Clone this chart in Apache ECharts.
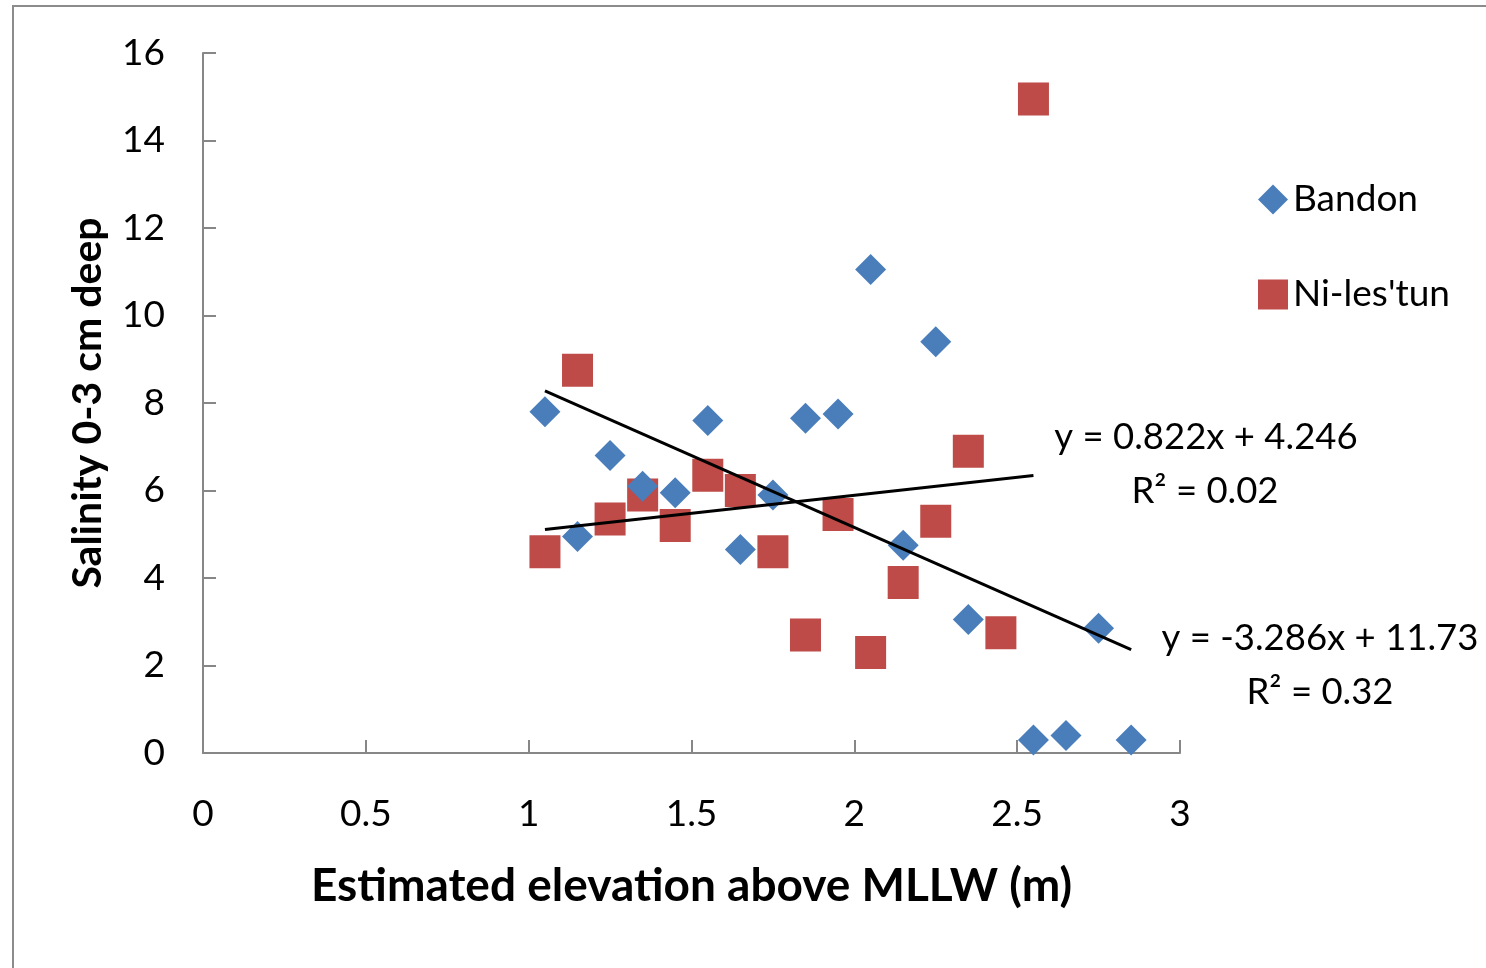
<!DOCTYPE html>
<html>
<head>
<meta charset="utf-8">
<script src="https://cdn.jsdelivr.net/npm/echarts@6/dist/echarts.min.js"></script>
<style>
html, body { margin: 0; padding: 0; background: #fff; }
#chart { width: 1486px; height: 968px; }
</style>
</head>
<body>
<div id="chart"></div>
<script>
var bandonX = [1.05, 1.15, 1.25, 1.35, 1.45, 1.55, 1.65, 1.75, 1.85, 1.95, 2.05, 2.15, 2.25, 2.35, 2.55, 2.65, 2.75, 2.85];
var bandonY = [7.8, 4.95, 6.8, 6.1, 5.95, 7.6, 4.65, 5.9, 7.65, 7.75, 11.05, 4.75, 9.4, 3.05, 0.3, 0.4, 2.85, 0.3];
var nilesX = [1.05, 1.15, 1.25, 1.35, 1.45, 1.55, 1.65, 1.75, 1.85, 1.95, 2.05, 2.15, 2.25, 2.35, 2.45, 2.55];
var nilesY = [4.6, 8.75, 5.35, 5.9, 5.2, 6.35, 6.0, 4.6, 2.7, 5.45, 2.3, 3.9, 5.3, 6.9, 2.75, 14.95];
// trendline coefficients [slope, intercept]
var bandonFit = [-3.286, 11.73];
var nilesFit = [0.822, 4.246];
var xTicks = [0, 0.5, 1, 1.5, 2, 2.5, 3];
var yTicks = [0, 2, 4, 6, 8, 10, 12, 14, 16];

var font = 'Lato';
var axisGrey = '#878787';

function pairs(xs, ys) {
	return xs.map(function(x, i) { return [x, ys[i]]; });
}
function fitLine(xs, fit) {
	var lo = Math.min.apply(null, xs), hi = Math.max.apply(null, xs);
	return [[lo, fit[0] * lo + fit[1]], [hi, fit[0] * hi + fit[1]]];
}

var myChart = echarts.init(document.getElementById('chart'));

var eqFont = '36.5px ' + font;

var option = {
	backgroundColor: '#fff',
	animation: false,
	graphic: [
		{ type: 'rect', shape: { x: 13, y: 6, width: 1600, height: 1100 }, style: { fill: 'none', stroke: '#8c8c8c', lineWidth: 2 } },
		{ type: 'text', x: 1206, y: 437, style: { text: 'y = 0.822x + 4.246', font: eqFont, fill: '#000', align: 'center', verticalAlign: 'middle' } },
		{ type: 'text', x: 1205, y: 491, style: { text: 'R² = 0.02', font: eqFont, fill: '#000', align: 'center', verticalAlign: 'middle' } },
		{ type: 'text', x: 1320, y: 638, style: { text: 'y = -3.286x + 11.73', font: eqFont, fill: '#000', align: 'center', verticalAlign: 'middle' } },
		{ type: 'text', x: 1320, y: 692, style: { text: 'R² = 0.32', font: eqFont, fill: '#000', align: 'center', verticalAlign: 'middle' } }
	],
	grid: { left: 203, right: 306, top: 53, bottom: 215 },
	legend: {
		orient: 'vertical',
		left: 1253,
		top: 176,
		itemGap: 58,
		itemWidth: 30,
		itemHeight: 30,
		textStyle: { fontFamily: font, fontSize: 37, color: '#000' },
		data: ['Bandon', "Ni-les'tun"]
	},
	xAxis: {
		type: 'value',
		min: 0,
		max: 3,
		interval: 0.5,
		name: 'Estimated elevation above MLLW (m)',
		nameLocation: 'middle',
		nameGap: 110,
		nameTextStyle: { fontFamily: font, fontSize: 46, fontWeight: 'bold', color: '#000' },
		axisLine: { lineStyle: { color: axisGrey, width: 2 } },
		axisTick: { inside: true, length: 13, lineStyle: { color: axisGrey, width: 2 } },
		splitLine: { show: false },
		axisLabel: {
			margin: 43,
			fontFamily: font, fontSize: 37, color: '#000',
			formatter: function(v) { return xTicks.indexOf(v) >= 0 ? String(v) : ''; }
		}
	},
	yAxis: {
		type: 'value',
		min: 0,
		max: 16,
		interval: 2,
		name: 'Salinity 0-3 cm deep',
		nameLocation: 'middle',
		nameGap: 95,
		nameTextStyle: { fontFamily: font, fontSize: 41, fontWeight: 'bold', color: '#000' },
		axisLine: { show: true, lineStyle: { color: axisGrey, width: 2 } },
		axisTick: { show: true, inside: true, length: 13, lineStyle: { color: axisGrey, width: 2 } },
		splitLine: { show: false },
		axisLabel: {
			margin: 38,
			fontFamily: font, fontSize: 37, color: '#000',
			formatter: function(v) { return yTicks.indexOf(v) >= 0 ? String(v) : ''; }
		}
	},
	series: [
		{
			name: 'Bandon',
			type: 'scatter',
			symbol: 'diamond',
			symbolSize: [31, 31],
			itemStyle: { color: '#4a7ebb', opacity: 1 },
			data: pairs(bandonX, bandonY),
			z: 3
		},
		{
			name: "Ni-les'tun",
			type: 'scatter',
			symbol: 'rect',
			symbolSize: [31, 33],
			itemStyle: { color: '#be4b48', opacity: 1 },
			data: pairs(nilesX, nilesY),
			z: 2
		},
		{
			name: 'Bandon fit',
			type: 'line',
			data: fitLine(bandonX, bandonFit),
			symbol: 'none',
			lineStyle: { color: '#000', width: 3 },
			z: 4
		},
		{
			name: 'Ni-les\'tun fit',
			type: 'line',
			data: fitLine(nilesX, nilesFit),
			symbol: 'none',
			lineStyle: { color: '#000', width: 3 },
			z: 4
		}
	]
};

myChart.setOption(option);
</script>
</body>
</html>
